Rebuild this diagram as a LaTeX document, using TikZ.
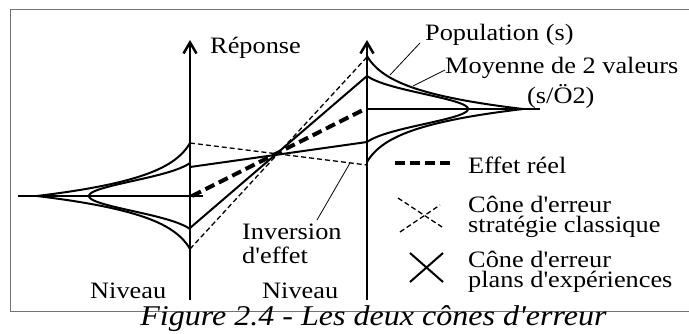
\documentclass[tikz,border=0pt]{standalone}
\usepackage{fontspec}
\setmainfont{Liberation Serif}[FakeStretch=1.12, Ligatures=TeXOff]
\usetikzlibrary{arrows.meta}
\tikzset{
  lbl/.style={anchor=base west, inner sep=0pt, align=left, font=\fontsize{23.5}{20}\selectfont},
  axisline/.style={line width=2.5pt, -{Straight Barb[length=11pt,width=13pt]}},
  curve/.style={line width=2pt},
  tipline/.style={line width=2pt},
  effet/.style={line width=4pt, dash pattern=on 10pt off 5pt},
  classic/.style={line width=1.3pt, dash pattern=on 5pt off 3pt},
  plans/.style={line width=2pt},
  leader/.style={line width=0.8pt},
  frame/.style={line width=1pt, draw=black!55}
}
\begin{document}
\begin{tikzpicture}[x=1pt,y=-1pt]
\useasboundingbox (0,0) rectangle (689,333);
% frame
\draw[frame] (695,9) -- (10,9) -- (10,311) -- (695,311);
% axes
\coordinate (LB) at (190,300); \coordinate (LT) at (190,40);
\coordinate (RB) at (367,300); \coordinate (RT) at (367,40);
\draw[axisline] (LB) -- (LT);
\draw[axisline] (RB) -- (RT);
% mean lines
\coordinate (L0a) at (18,196); \coordinate (L0b) at (203,196);
\coordinate (R0a) at (367,109); \coordinate (R0b) at (540,109);
\draw[tipline] (L0a) -- (L0b);
\draw[tipline] (R0a) -- (R0b);
% distributions, left
\draw[curve] plot[domain=-53:53,samples=107,variable=\t] ({190-153*(exp(-abs(\t)/20)-0.0707)/0.9293},{196+\t});
\draw[curve] plot[domain=-33:33,samples=67,variable=\t] ({190-101*(exp(-\t*\t/450)-0.0889)/0.9111},{196+\t});
% distributions, right
\draw[curve] plot[domain=-53:53,samples=107,variable=\t] ({367+156*(exp(-abs(\t)/20)-0.0707)/0.9293},{109+\t});
\draw[curve] plot[domain=-33:33,samples=67,variable=\t] ({367+101*(exp(-\t*\t/450)-0.0889)/0.9111},{109+\t});
% cone end points
\coordinate (E1) at (192,196); \coordinate (E2) at (365,109);
\coordinate (C1) at (190,143); \coordinate (C2) at (367,165);
\coordinate (C3) at (190,249); \coordinate (C4) at (367,57);
\coordinate (P1) at (190,167); \coordinate (P2) at (367,142);
\coordinate (P3) at (190,228); \coordinate (P4) at (367,76);
\draw[classic] (C1) -- (C2);
\draw[classic] (C3) -- (C4);
\draw[plans] (P1) -- (P2);
\draw[plans] (P3) -- (P4);
\draw[effet] (E1) -- (E2);
% labels
\node[lbl] (rep) at (210,53) {Réponse};
\node[lbl] (niv1) at (90,298) {Niveau};
\node[lbl] (niv2) at (262,298) {Niveau};
\node[lbl, font=\fontsize{23.5}{24}\selectfont] (inv) at (242,263) {Inversion\\d'effet};
\coordinate (invA) at (350,163); \coordinate (invB) at (317,220);
\draw[leader] (invA) -- (invB);
\node[lbl] (pop) at (425,40) {Population (s)};
\node[lbl] (moy) at (445,73) {Moyenne de 2 valeurs};
\node[lbl] (moy2) at (527,103) {(s/Ö2)};
\coordinate (popA) at (420,43); \coordinate (popB) at (390,75);
\coordinate (moyA) at (445,70); \coordinate (moyB) at (413,86);
\draw[leader] (popA) -- (popB);
\draw[leader] (moyA) -- (moyB);
% legend
\coordinate (g1a) at (395,163); \coordinate (g1b) at (452,163);
\draw[effet] (g1a) -- (g1b);
\node[lbl] (leg1) at (468,173) {Effet réel};
\coordinate (g2a) at (398,198); \coordinate (g2b) at (442,227);
\coordinate (g2c) at (400,232); \coordinate (g2d) at (440,205);
\draw[classic] (g2a) -- (g2b);
\draw[classic] (g2c) -- (g2d);
\node[lbl] (leg2) at (468,232) {Cône d'erreur\\stratégie classique};
\coordinate (g3a) at (410,253); \coordinate (g3b) at (443,282);
\coordinate (g3c) at (410,282); \coordinate (g3d) at (443,253);
\draw[plans] (g3a) -- (g3b);
\draw[plans] (g3c) -- (g3d);
\node[lbl] (leg3) at (468,287) {Cône d'erreur\\plans d'expériences};
% caption
\node[anchor=base, inner sep=0pt, font=\fontsize{28.6}{30}\selectfont\itshape] (cap) at (373.5,325) {Figure 2.4 - Les deux cônes d'erreur};
\end{tikzpicture}
\end{document}
